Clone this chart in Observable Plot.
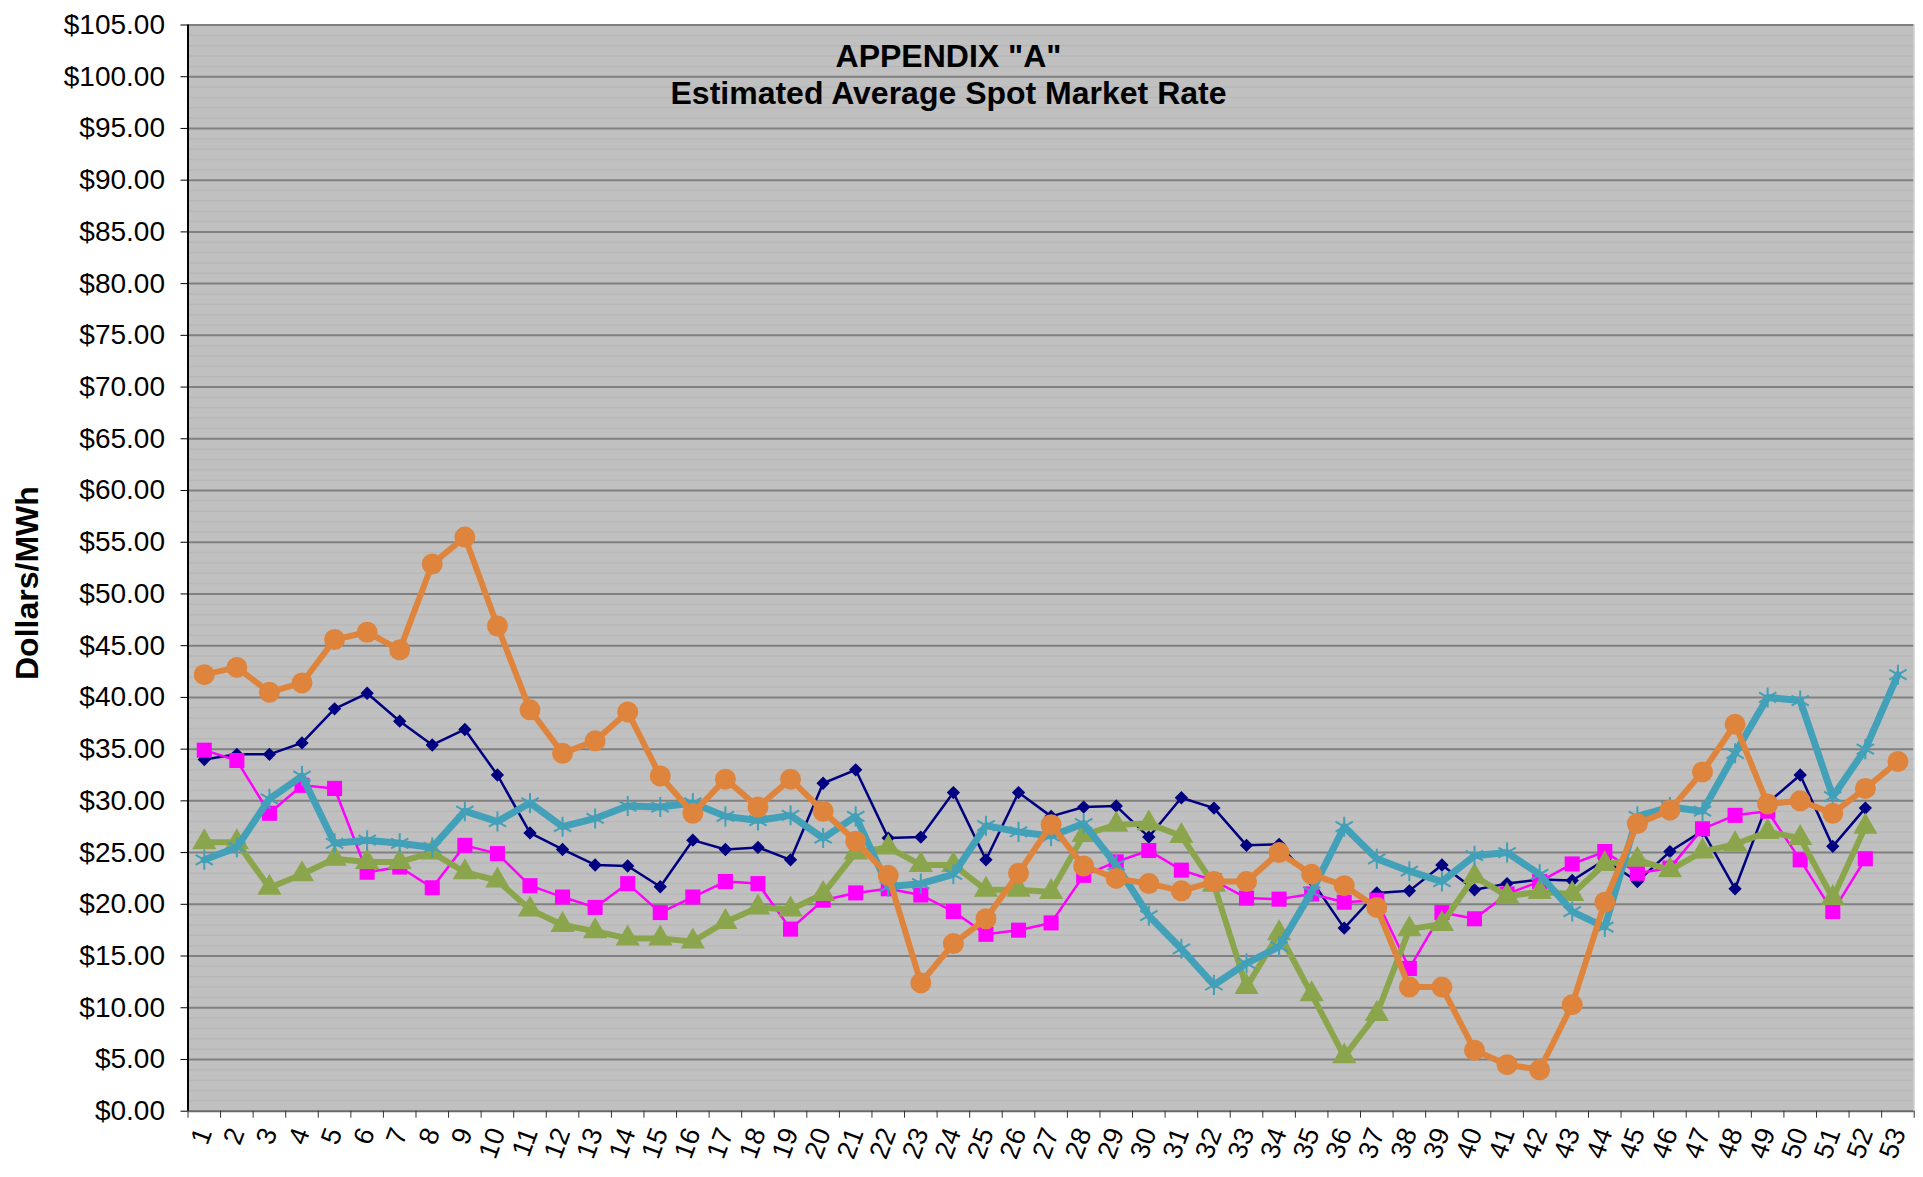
<!DOCTYPE html>
<html>
<head>
<meta charset="utf-8">
<script src="https://cdn.jsdelivr.net/npm/d3@7"></script>
<script src="https://cdn.jsdelivr.net/npm/@observablehq/plot@0.6"></script>
<style>
html, body { margin: 0; padding: 0; background: #ffffff; }
#chart { width: 1923px; height: 1177px; }
</style>
</head>
<body>
<div id="chart"></div>
<script>
// Weeks (categories)
const weeks = [1,2,3,4,5,6,7,8,9,10,11,12,13,14,15,16,17,18,19,20,21,22,23,24,25,26,27,28,29,30,31,32,33,34,35,36,37,38,39,40,41,42,43,44,45,46,47,48,49,50,51,52,53];

// Series values ($/MWh)
const navySeries = [34.0,34.5,34.5,35.6,38.9,40.4,37.7,35.4,36.9,32.5,26.9,25.3,23.8,23.7,21.7,26.2,25.3,25.5,24.3,31.7,33.0,26.4,26.5,30.8,24.3,30.8,28.5,29.4,29.5,26.5,30.3,29.3,25.7,25.8,22.3,17.7,21.1,21.3,23.8,21.4,22.0,22.4,22.3,24.3,22.2,25.1,27.1,21.5,29.8,32.5,25.6,29.3];
const magentaSeries = [34.9,33.9,28.8,31.5,31.2,23.1,23.6,21.6,25.7,24.9,21.8,20.7,19.7,22.0,19.2,20.7,22.2,22.0,17.6,20.4,21.1,21.5,20.9,19.3,17.1,17.5,18.2,22.8,24.1,25.2,23.3,22.3,20.6,20.5,21.0,20.2,20.4,13.8,19.2,18.6,21.0,22.2,23.9,25.1,23.0,23.5,27.3,28.6,29.0,24.3,19.3,24.4];
const greenSeries = [26.0,26.0,21.6,22.9,24.4,24.1,24.1,25.0,23.1,22.3,19.5,18.0,17.4,16.7,16.7,16.4,18.3,19.7,19.5,21.0,25.0,25.5,23.8,23.8,21.4,21.4,21.2,26.7,27.7,27.8,26.6,21.9,12.0,17.2,11.3,5.3,9.4,17.6,18.1,22.7,20.8,21.2,21.0,23.9,24.3,23.3,25.1,25.8,27.0,26.4,20.6,27.5];
const tealSeries = [24.3,25.5,30.2,32.4,25.9,26.2,25.9,25.5,29.0,28.0,29.8,27.5,28.3,29.5,29.4,29.8,28.5,28.1,28.6,26.4,28.5,21.7,22.0,22.9,27.6,27.0,26.6,27.8,23.8,18.9,15.7,12.2,14.3,15.9,21.2,27.5,24.4,23.2,22.2,24.7,25.0,22.9,19.3,17.8,28.5,29.4,29.0,34.6,40.0,39.7,30.4,35.0,42.2];
const orangeSeries = [42.2,42.9,40.5,41.4,45.6,46.3,44.6,52.9,55.5,46.9,38.8,34.6,35.8,38.6,32.4,28.8,32.1,29.4,32.1,29.0,26.1,22.8,12.4,16.2,18.6,23.0,27.7,23.7,22.5,22.0,21.3,22.2,22.2,25.0,22.9,21.8,19.7,12.0,12.0,5.9,4.5,4.0,10.3,20.2,27.8,29.1,32.8,37.4,29.7,30.0,28.8,31.2,33.8];

// Axis ticks
const yMajorTicks = [0,5,10,15,20,25,30,35,40,45,50,55,60,65,70,75,80,85,90,95,100,105];
const yMinorTicks = d3.range(1, 105).filter(v => v % 5 !== 0);
const xBoundaryTicks = weeks.map(w => w - 0.5).concat([53.5]);

const titleLines = ['APPENDIX "A"', 'Estimated Average Spot Market Rate'];
const yTitle = "Dollars/MWh";

const rows = (vals) => vals.map((v, i) => ({week: weeks[i], value: v}));
const navy = rows(navySeries), magenta = rows(magentaSeries), green = rows(greenSeries), teal = rows(tealSeries), orange = rows(orangeSeries);

const C = {navy: "#000080", magenta: "#ff00ff", green: "#8ba54c", teal: "#42a0b8", orange: "#de843c"};

const plot = Plot.plot({
  width: 1923,
  height: 1177,
  marginLeft: 187.5,
  marginRight: 9.3,
  marginTop: 24.5,
  marginBottom: 66.3,
  style: {fontFamily: "'Liberation Sans', Arial, sans-serif", fontSize: "28px", background: "#ffffff", color: "#000000", overflow: "visible"},
  x: {domain: [0.5, 53.5]},
  y: {domain: [0, 105]},
  marks: [
    Plot.frame({fill: "#c0c0c0", stroke: null}),
    Plot.ruleY(yMinorTicks, {stroke: "#b8b8b8", strokeWidth: 1.5}),
    Plot.ruleY(yMajorTicks.filter(v => v > 0), {stroke: "#808080", strokeWidth: 2}),
    Plot.ruleY([0], {stroke: "#6a6a6a", strokeWidth: 2}),
    Plot.ruleX([53.5], {stroke: "#d8d8d8", strokeWidth: 1.5}),
    Plot.ruleX([0.5], {stroke: "#000000", strokeWidth: 2}),
    Plot.axisY({ticks: yMajorTicks, tickFormat: d => "$" + d.toFixed(2), tickSize: 7, tickPadding: 16, label: null, fontSize: 28, stroke: "#000"}),
    Plot.axisX({ticks: xBoundaryTicks, tickFormat: () => "", tickSize: 7, label: null, stroke: "#333"}),
    Plot.axisX({ticks: weeks, tickFormat: d => String(d), tickSize: 0, tickPadding: 18, tickRotate: -70, label: null, fontSize: 27}),
    // Series 1: navy diamonds
    Plot.line(navy, {x: "week", y: "value", stroke: C.navy, strokeWidth: 2.5}),
    Plot.dot(navy, {x: "week", y: "value", symbol: "diamond2", fill: C.navy, r: 6}),
    // Series 2: magenta squares
    Plot.line(magenta, {x: "week", y: "value", stroke: C.magenta, strokeWidth: 2.5}),
    Plot.dot(magenta, {x: "week", y: "value", symbol: "square", fill: C.magenta, r: 8.5}),
    // Series 3: green triangles
    Plot.line(green, {x: "week", y: "value", stroke: C.green, strokeWidth: 6}),
    Plot.dot(green, {x: "week", y: "value", symbol: "triangle", fill: C.green, r: 9}),
    // Series 4: teal asterisks
    Plot.line(teal, {x: "week", y: "value", stroke: C.teal, strokeWidth: 7}),
    Plot.dot(teal, {x: "week", y: "value", symbol: "asterisk", stroke: C.teal, fill: "none", strokeWidth: 2, r: 9.5}),
    // Series 5: orange circles
    Plot.line(orange, {x: "week", y: "value", stroke: C.orange, strokeWidth: 6}),
    Plot.dot(orange, {x: "week", y: "value", symbol: "circle", fill: C.orange, r: 10.5}),
    // Title
    Plot.text([titleLines[0]], {frameAnchor: "top-left", dx: 760.5, dy: 19.5, textAnchor: "middle", fontSize: 32, fontWeight: "bold", fill: "#000"}),
    Plot.text([titleLines[1]], {frameAnchor: "top-left", dx: 760.5, dy: 56, textAnchor: "middle", fontSize: 32, fontWeight: "bold", fill: "#000"}),
    // Y axis title
    Plot.text([yTitle], {frameAnchor: "left", dx: -160, dy: 15, rotate: -90, textAnchor: "middle", fontSize: 32, fontWeight: "bold", fill: "#000"})
  ]
});
document.getElementById("chart").appendChild(plot);
</script>
</body>
</html>
